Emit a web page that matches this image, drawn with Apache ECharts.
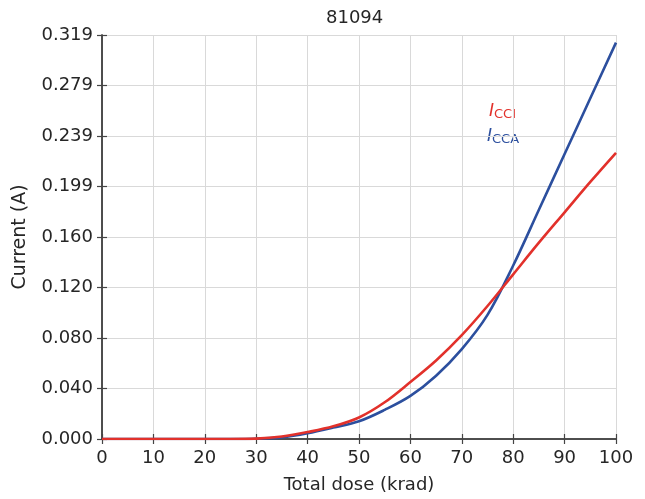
<!DOCTYPE html>
<html>
<head>
<meta charset="utf-8">
<script src="https://cdn.jsdelivr.net/npm/echarts@6/dist/echarts.min.js"></script>
<style>
  html, body { margin: 0; padding: 0; background: #fff; }
  #char1 { width: 645px; height: 499px; }
</style>
</head>
<body>
<div id="char1"></div>
<script>
// dose points (krad)
var doses = [0, 5, 10, 15, 20, 25, 30, 35, 40, 45, 50, 55, 60, 65, 70, 75, 80, 85, 90, 95, 100];
// I_CCI (red)
var icci = [0, 0, 0, 0, 0, 0, 0.0003, 0.0020, 0.0055, 0.010, 0.017, 0.029, 0.045, 0.062, 0.082, 0.105, 0.130, 0.155, 0.179, 0.203, 0.226];
// I_CCA (blue)
var icca = [0, 0, 0, 0, 0, 0, 0.0002, 0.0013, 0.0045, 0.009, 0.014, 0.023, 0.034, 0.050, 0.071, 0.098, 0.137, 0.181, 0.225, 0.269, 0.313];
// y tick labels
var yTicks = ['0.000', '0.040', '0.080', '0.120', '0.160', '0.199', '0.239', '0.279', '0.319'];
var yMax = 0.319;
var yStep = yMax / 8;

var font = 'DejaVu Sans, Liberation Sans, Arial, sans-serif';
var red = '#e2312b';
var blue = '#2c4f9e';
var ink = '#262626';

function pairs(ys) {
    var out = [];
    for (var i = 0; i < doses.length; i++) {
        out.push([doses[i], ys[i]]);
    }
    return out;
}

var char1 = echarts.init(document.getElementById('char1'));
var axisLine = {show: true, lineStyle: {color: '#444', width: 1.5}};
var tick = {show: true, inside: true, length: 5, lineStyle: {color: '#444', width: 1.2}};
var option = {
    animation: false,
    title: {
        text: '81094',
        left: 321,
        top: 4,
        textStyle: {fontFamily: font, fontSize: 18, fontWeight: 'normal', color: ink}
    },
    grid: {left: 102, right: 29, top: 35, bottom: 60},
    xAxis: [
        {
            type: 'value', min: 0, max: 100, interval: 10,
            name: 'Total dose (krad)', nameLocation: 'middle', nameGap: 37,
            nameTextStyle: {fontFamily: font, fontSize: 18, color: ink},
            axisLine: axisLine, axisTick: tick,
            axisLabel: {fontFamily: font, fontSize: 18, color: ink, margin: 10},
            splitLine: {show: true, lineStyle: {color: '#d9d9d9', width: 1}}
        },
        {
            type: 'value', position: 'top', min: 0, max: 100, interval: 10,
            axisLine: axisLine, axisTick: tick,
            axisLabel: {show: false}, splitLine: {show: false}
        }
    ],
    yAxis: [
        {
            type: 'value', min: 0, max: yMax, interval: yStep,
            name: 'Current (A)', nameLocation: 'middle', nameGap: 72,
            nameTextStyle: {fontFamily: font, fontSize: 19, color: ink},
            axisLine: axisLine, axisTick: tick,
            axisLabel: {
                fontFamily: font, fontSize: 18, color: ink, margin: 9,
                formatter: function (v) {
                    return yTicks[Math.round(v / yStep)];
                }
            },
            splitLine: {show: true, lineStyle: {color: '#d9d9d9', width: 1}}
        },
        {
            type: 'value', position: 'right', min: 0, max: yMax, interval: yStep,
            axisLine: axisLine, axisTick: tick,
            axisLabel: {show: false}, splitLine: {show: false}
        }
    ],
    series: [
        {
            name: 'ICCA', type: 'line', data: pairs(icca), showSymbol: false,
            smooth: 0.35,
            lineStyle: {color: blue, width: 2.6}
        },
        {
            name: 'ICCI', type: 'line', data: pairs(icci), showSymbol: false,
            smooth: 0.35,
            lineStyle: {color: red, width: 2.6}
        }
    ],
    graphic: [
        {
            type: 'text', left: 489, top: 103,
            style: {
                text: '{i|I}{s|CCI}',
                rich: {
                    i: {fontFamily: font, fontSize: 17, fontStyle: 'italic', fill: red},
                    s: {fontFamily: font, fontSize: 13, fill: red, padding: [7, 0, 0, 0]}
                }
            }
        },
        {
            type: 'text', left: 487, top: 128,
            style: {
                text: '{i|I}{s|CCA}',
                rich: {
                    i: {fontFamily: font, fontSize: 17, fontStyle: 'italic', fill: blue},
                    s: {fontFamily: font, fontSize: 13, fill: blue, padding: [7, 0, 0, 0]}
                }
            }
        }
    ]
};
char1.setOption(option);
</script>
</body>
</html>
